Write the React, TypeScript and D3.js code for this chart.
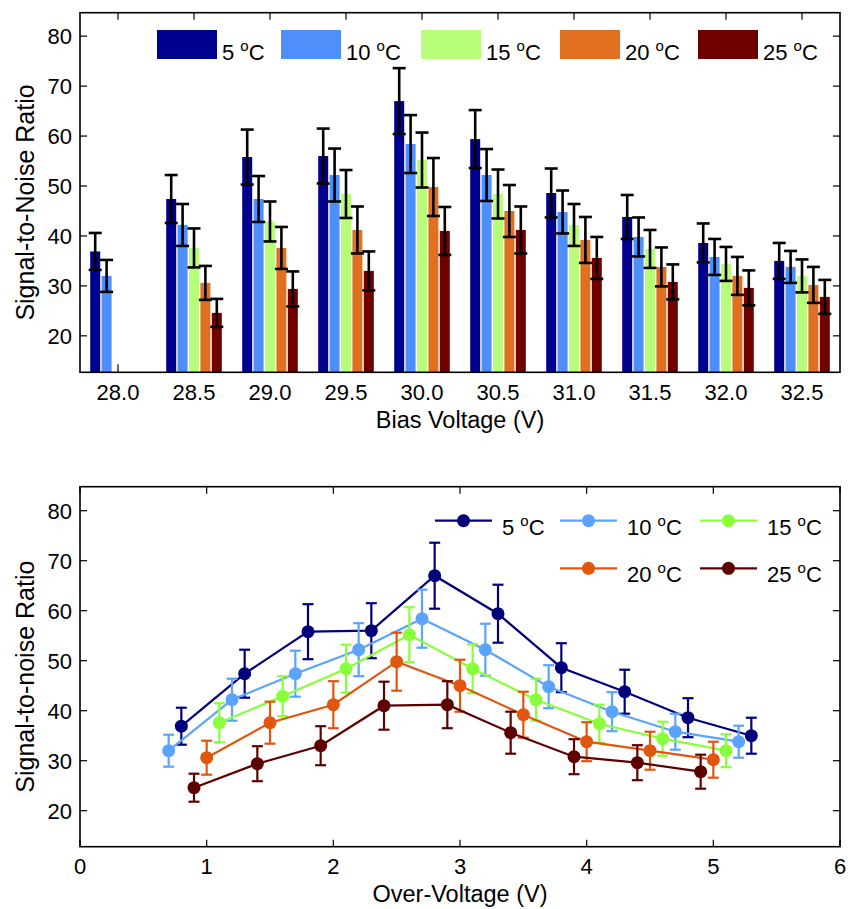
import * as d3 from "d3";

// bias voltages (V) and temperatures (°C)
const biasVoltages = ["28.0", "28.5", "29.0", "29.5", "30.0", "30.5", "31.0", "31.5", "32.0", "32.5"];
const temps = ["5", "10", "15", "20", "25"];

// signal-to-noise ratio per temperature, one value per bias voltage
const snr5 = [36.9, 47.4, 55.8, 56.0, 67.0, 59.4, 48.6, 43.8, 38.6, 35.0];
const snr10 = [32.0, 42.2, 47.4, 52.2, 58.4, 52.2, 44.8, 39.8, 35.8, 33.8];
const snr15 = [null, 37.6, 42.9, 48.4, 55.2, 48.4, 42.2, 37.4, 34.4, 32.0];
const snr20 = [null, 30.6, 37.6, 41.2, 49.8, 45.0, 39.2, 33.8, 32.0, 30.2];
const snr25 = [null, 24.6, 29.4, 33.0, 41.0, 41.2, 35.6, 30.8, 29.6, 27.8];

// error bars (+/-)
const err5 = [3.7, 4.8, 5.5, 5.5, 6.6, 5.8, 4.9, 4.4, 3.9, 3.6];
const err10 = [3.2, 4.2, 4.6, 5.3, 5.8, 5.2, 4.3, 3.9, 3.6, 3.2];
const err15 = [null, 3.9, 4.0, 4.8, 5.5, 4.9, 4.2, 3.8, 3.4, 3.3];
const err20 = [null, 3.4, 4.2, 4.7, 5.8, 5.2, 4.6, 3.9, 3.8, 3.6];
const err25 = [null, 2.8, 3.5, 3.9, 4.8, 4.7, 4.2, 3.5, 3.5, 3.4];

// breakdown voltage per temperature (V), over-voltage = bias - breakdown
const breakdown = [27.2, 27.3, 27.4, 27.5, 27.6];

const yTicks = [20, 30, 40, 50, 60, 70, 80];
const overTicks = [0, 1, 2, 3, 4, 5, 6];

const snr = [snr5, snr10, snr15, snr20, snr25];
const errs = [err5, err10, err15, err20, err25];

const barColors = ["#00008E", "#4F8FFB", "#B7FF78", "#E0701F", "#6E0000"];
const lineColors = ["#00007D", "#5AA3FF", "#88FF3A", "#E0560F", "#5E0000"];

const font = "'Liberation Sans', Arial, Helvetica, sans-serif";
const tickSize = 22;
const labelSize = 23.5;
const ylabelSize = 25;
const tickLen = 7;

function Deg({ t }: { t: string }) {
  return (
    <>
      {t + " "}
      <tspan dy={-9} fontSize={15}>o</tspan>
      <tspan dy={9}>C</tspan>
    </>
  );
}

function Frame({ left, right, top, bottom }: any) {
  return (
    <rect
      x={left}
      y={top}
      width={right - left}
      height={bottom - top}
      fill="none"
      stroke="#000"
      strokeWidth={1.6}
    />
  );
}

function YAxis({ yScale, left, right, label, midY }: any) {
  return (
    <g>
      {yTicks.map((t) => (
        <g key={t}>
          <line x1={left} x2={left + tickLen} y1={yScale(t)} y2={yScale(t)} stroke="#000" strokeWidth={1.2} />
          <line x1={right} x2={right - tickLen} y1={yScale(t)} y2={yScale(t)} stroke="#000" strokeWidth={1.2} />
          <text x={left - 8} y={yScale(t) + 8} textAnchor="end" fontSize={tickSize}>
            {t}
          </text>
        </g>
      ))}
      <text transform={`translate(34, ${midY}) rotate(-90)`} textAnchor="middle" fontSize={ylabelSize}>
        {label}
      </text>
    </g>
  );
}

function BarChart() {
  const left = 80, right = 840, top = 12.7, bottom = 372.3;
  const x = d3.scaleBand().domain(biasVoltages).range([left, right]).padding(0);
  const inner = d3.scaleBand().domain(temps).range([-28.5, 28.5]).padding(0);
  const y = d3.scaleLinear().domain([12.7, 84.7]).range([bottom, top]);
  const barW = 10;
  const cap = 6.5;
  const legendX = [157, 281, 421, 560, 698];

  return (
    <g>
      {biasVoltages.map((v) => {
        const cx = x(v)! + x.bandwidth() / 2;
        return (
          <g key={v}>
            <line x1={cx} x2={cx} y1={bottom} y2={bottom - tickLen - 1} stroke="#000" strokeWidth={1.2} />
            <line x1={cx} x2={cx} y1={top} y2={top + tickLen} stroke="#000" strokeWidth={1.2} />
            <text x={cx} y={bottom + 27.5} textAnchor="middle" fontSize={tickSize}>
              {v}
            </text>
          </g>
        );
      })}
      <YAxis yScale={y} left={left} right={right} label="Signal-to-Noise Ratio" midY={(top + bottom) / 2 + 10} />
      {temps.map((t, si) => (
        <g key={t}>
          {biasVoltages.map((v, i) => {
            const val = snr[si][i];
            if (val == null) return null;
            const cx = x(v)! + x.bandwidth() / 2 + inner(t)! + inner.bandwidth() / 2;
            return (
              <rect key={v} x={cx - barW / 2} y={y(val)} width={barW} height={bottom - y(val)} fill={barColors[si]} />
            );
          })}
        </g>
      ))}
      {temps.map((t, si) => (
        <g key={t} stroke="#000" strokeWidth={2.6}>
          {biasVoltages.map((v, i) => {
            const val = snr[si][i];
            const e = errs[si][i];
            if (val == null || e == null) return null;
            const cx = x(v)! + x.bandwidth() / 2 + inner(t)! + inner.bandwidth() / 2;
            return (
              <g key={v}>
                <line x1={cx} x2={cx} y1={y(val + e)} y2={y(val - e)} />
                <line x1={cx - cap} x2={cx + cap} y1={y(val + e)} y2={y(val + e)} />
                <line x1={cx - cap} x2={cx + cap} y1={y(val - e)} y2={y(val - e)} />
              </g>
            );
          })}
        </g>
      ))}
      <Frame left={left} right={right} top={top} bottom={bottom} />
      <text x={(left + right) / 2} y={428} textAnchor="middle" fontSize={labelSize}>
        Bias Voltage (V)
      </text>
      {temps.map((t, si) => (
        <g key={t}>
          <rect x={legendX[si]} y={30} width={60} height={29} fill={barColors[si]} />
          <text x={legendX[si] + 65} y={59.5} fontSize={tickSize}>
            <Deg t={t} />
          </text>
        </g>
      ))}
    </g>
  );
}

function LineChart() {
  const left = 80, right = 840, top = 486.7, bottom = 846.7;
  const x = d3.scaleLinear().domain([0, 6]).range([left, right]);
  const y = d3.scaleLinear().domain([12.8, 84.8]).range([bottom, top]);
  const cap = 5.5;
  const r = 6.5;
  const legendCols = [435, 560, 700];
  const legendRows = [520.7, 568.3];
  const legendSlots = [[0, 0], [1, 0], [2, 0], [1, 1], [2, 1]];

  const pts = temps.map((t, si) =>
    biasVoltages
      .map((v, i) => ({ ov: +v - breakdown[si], val: snr[si][i], e: errs[si][i] }))
      .filter((d) => d.val != null)
  );
  const line = d3
    .line<any>()
    .x((d) => x(d.ov))
    .y((d) => y(d.val));

  return (
    <g>
      {overTicks.map((t) => (
        <g key={t}>
          <line x1={x(t)} x2={x(t)} y1={bottom} y2={bottom - tickLen} stroke="#000" strokeWidth={1.2} />
          <line x1={x(t)} x2={x(t)} y1={top} y2={top + tickLen} stroke="#000" strokeWidth={1.2} />
          <text x={x(t)} y={bottom + 27.5} textAnchor="middle" fontSize={tickSize}>
            {t}
          </text>
        </g>
      ))}
      <YAxis yScale={y} left={left} right={right} label="Signal-to-noise Ratio" midY={(top + bottom) / 2 + 10} />
      {temps.map((t, si) => (
        <g key={t}>
          <path d={line(pts[si])!} fill="none" stroke={lineColors[si]} strokeWidth={2.2} />
          {pts[si].map((d, i) => (
            <g key={i} stroke={lineColors[si]} strokeWidth={2.2}>
              <line x1={x(d.ov)} x2={x(d.ov)} y1={y(d.val + d.e)} y2={y(d.val - d.e)} />
              <line x1={x(d.ov) - cap} x2={x(d.ov) + cap} y1={y(d.val + d.e)} y2={y(d.val + d.e)} />
              <line x1={x(d.ov) - cap} x2={x(d.ov) + cap} y1={y(d.val - d.e)} y2={y(d.val - d.e)} />
            </g>
          ))}
          {pts[si].map((d, i) => (
            <circle key={i} cx={x(d.ov)} cy={y(d.val)} r={r} fill={lineColors[si]} />
          ))}
        </g>
      ))}
      <Frame left={left} right={right} top={top} bottom={bottom} />
      <text x={(left + right) / 2} y={bottom + 55} textAnchor="middle" fontSize={labelSize}>
        Over-Voltage (V)
      </text>
      {temps.map((t, si) => {
        const lx = legendCols[legendSlots[si][0]];
        const ly = legendRows[legendSlots[si][1]];
        return (
          <g key={t}>
            <line x1={lx} x2={lx + 57} y1={ly} y2={ly} stroke={lineColors[si]} strokeWidth={2.2} />
            <circle cx={lx + 28.5} cy={ly} r={r} fill={lineColors[si]} />
            <text x={lx + 67} y={ly + 14} fontSize={tickSize}>
              <Deg t={t} />
            </text>
          </g>
        );
      })}
    </g>
  );
}

export default function App() {
  return (
    <svg
      width={848}
      height={909}
      style={{ position: "absolute", left: 0, top: 0, background: "#fff" }}
      fontFamily={font}
    >
      <rect width={848} height={909} fill="#fff" />
      <BarChart />
      <LineChart />
    </svg>
  );
}
